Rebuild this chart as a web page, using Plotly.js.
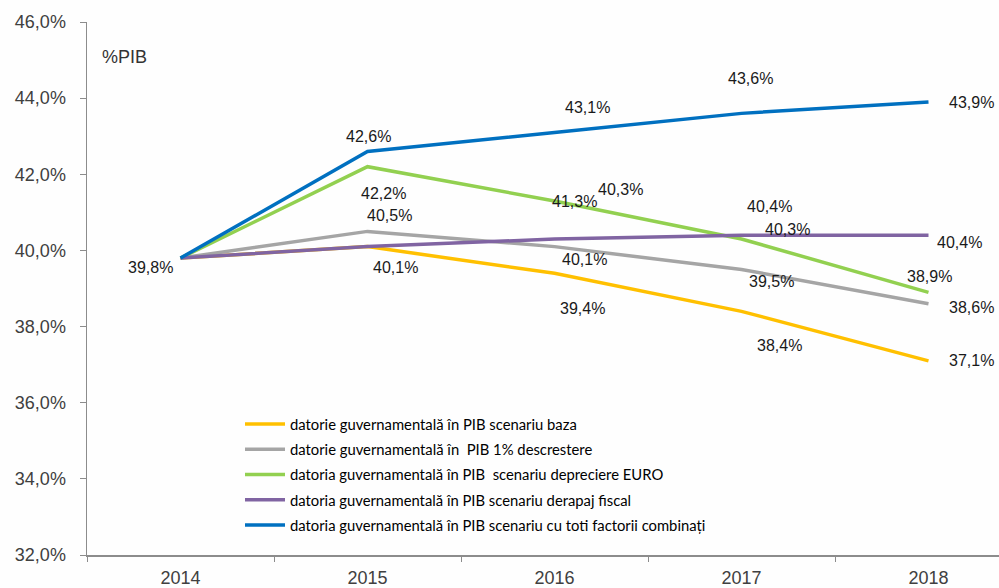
<!DOCTYPE html>
<html>
<head>
<meta charset="utf-8">
<script src="https://cdn.plot.ly/plotly-3.0.1.min.js"></script>
<style>
html,body{margin:0;padding:0;background:#fefefe;overflow:hidden;}
#chart{width:999px;height:588px;}
</style>
</head>
<body>
<div id="chart"></div>
<script>
// ---- data ----
var years = ["2014", "2015", "2016", "2017", "2018"];
var seriesNames = [
  "datorie guvernamentală în PIB scenariu baza",
  "datorie guvernamentală în  PIB 1% descrestere",
  "datoria guvernamentală în PIB  scenariu depreciere EURO",
  "datoria guvernamentală în PIB scenariu derapaj fiscal",
  "datoria guvernamentală în PIB scenariu cu toti factorii combinați"
];
var baza      = [39.8, 40.1, 39.4, 38.4, 37.1];
var descr     = [39.8, 40.5, 40.1, 39.5, 38.6];
var depreciere= [39.8, 42.2, 41.3, 40.3, 38.9];
var derapaj   = [39.8, 40.1, 40.3, 40.4, 40.4];
var combinati = [39.8, 42.6, 43.1, 43.6, 43.9];
var yTicks = [32, 34, 36, 38, 40, 42, 44, 46];

// ---- styling ----
var colors = ["#FFC000", "#A5A5A5", "#92D050", "#8064A2", "#0070C0"];
var allSeries = [baza, descr, depreciere, derapaj, combinati];
// label offsets [dx, dy] in px per series per year (null = no label shown)
var labelOffsets = [
  [[-30, -9], [28, -21], [28, -35], [38, -34], [43, 0]],
  [null, [22, 16], [30, -13], [30, -12], [43, -4]],
  [null, [16, -27], [20, -1], [46, 10], [1, 16]],
  [null, null, [66, 50], [28, 29], [31, -7]],
  [null, [1, 15], [33, 25], [9, 35], [43, -1]]
];

var traces = allSeries.map(function (vals, i) {
  return {
    type: "scatter",
    mode: "lines",
    x: years,
    y: vals,
    name: seriesNames[i],
    legendgroup: "g" + i,
    line: {color: colors[i], width: 3.5},
    hoverinfo: "skip"
  };
});

function fmt(v) { return v.toFixed(1).replace(".", ",") + "%"; }

var annotations = [];
allSeries.forEach(function (vals, i) {
  vals.forEach(function (v, j) {
    var off = labelOffsets[i][j];
    if (!off) return;
    annotations.push({
      x: j, y: v, xref: "x", yref: "y",
      text: fmt(v), showarrow: false,
      xshift: off[0], yshift: off[1],
      font: {family: "Liberation Sans, Arial, sans-serif", size: 16, color: "#1a1a1a"}
    });
  });
});
annotations.push({
  xref: "paper", yref: "paper", x: (100 - 87) / 912, y: (555 - 57) / 533,
  xanchor: "left", yanchor: "middle", showarrow: false,
  text: "%PIB",
  font: {family: "Liberation Sans, Arial, sans-serif", size: 18, color: "#333"}
});

var layout = {
  width: 999, height: 588,
  margin: {l: 87, r: 0, t: 22, b: 33, pad: 0},
  paper_bgcolor: "#fefefe",
  plot_bgcolor: "#fefefe",
  separators: ",.",
  showlegend: true,
  legend: {
    x: (240 - 87) / 912, y: (555 - 408) / 533,
    xanchor: "left", yanchor: "top",
    bgcolor: "rgba(0,0,0,0)",
    font: {family: "Lato, sans-serif", size: 14.8, color: "#000"},
    tracegroupgap: 3,
    itemwidth: 40
  },
  xaxis: {
    type: "category",
    range: [-0.5, 4.377],
    showgrid: false, zeroline: false,
    showline: true, linecolor: "#8c8c8c", linewidth: 1.5,
    ticks: "outside", tickson: "boundaries", ticklen: 5, tickcolor: "#8c8c8c",
    ticklabelstandoff: 6,
    tickfont: {family: "Liberation Sans, Arial, sans-serif", size: 18, color: "#404040"}
  },
  yaxis: {
    range: [32, 46],
    tickvals: yTicks,
    ticktext: yTicks.map(function (t) { return t.toFixed(1).replace(".", ",") + "%"; }),
    showgrid: false, zeroline: false,
    showline: true, linecolor: "#8c8c8c", linewidth: 1.5,
    ticks: "outside", ticklen: 6, tickcolor: "#8c8c8c",
    ticklabelstandoff: 10,
    tickfont: {family: "Liberation Sans, Arial, sans-serif", size: 18, color: "#404040"}
  },
  annotations: annotations
};

Plotly.newPlot("chart", traces, layout, {displayModeBar: false, staticPlot: true});
</script>
</body>
</html>
